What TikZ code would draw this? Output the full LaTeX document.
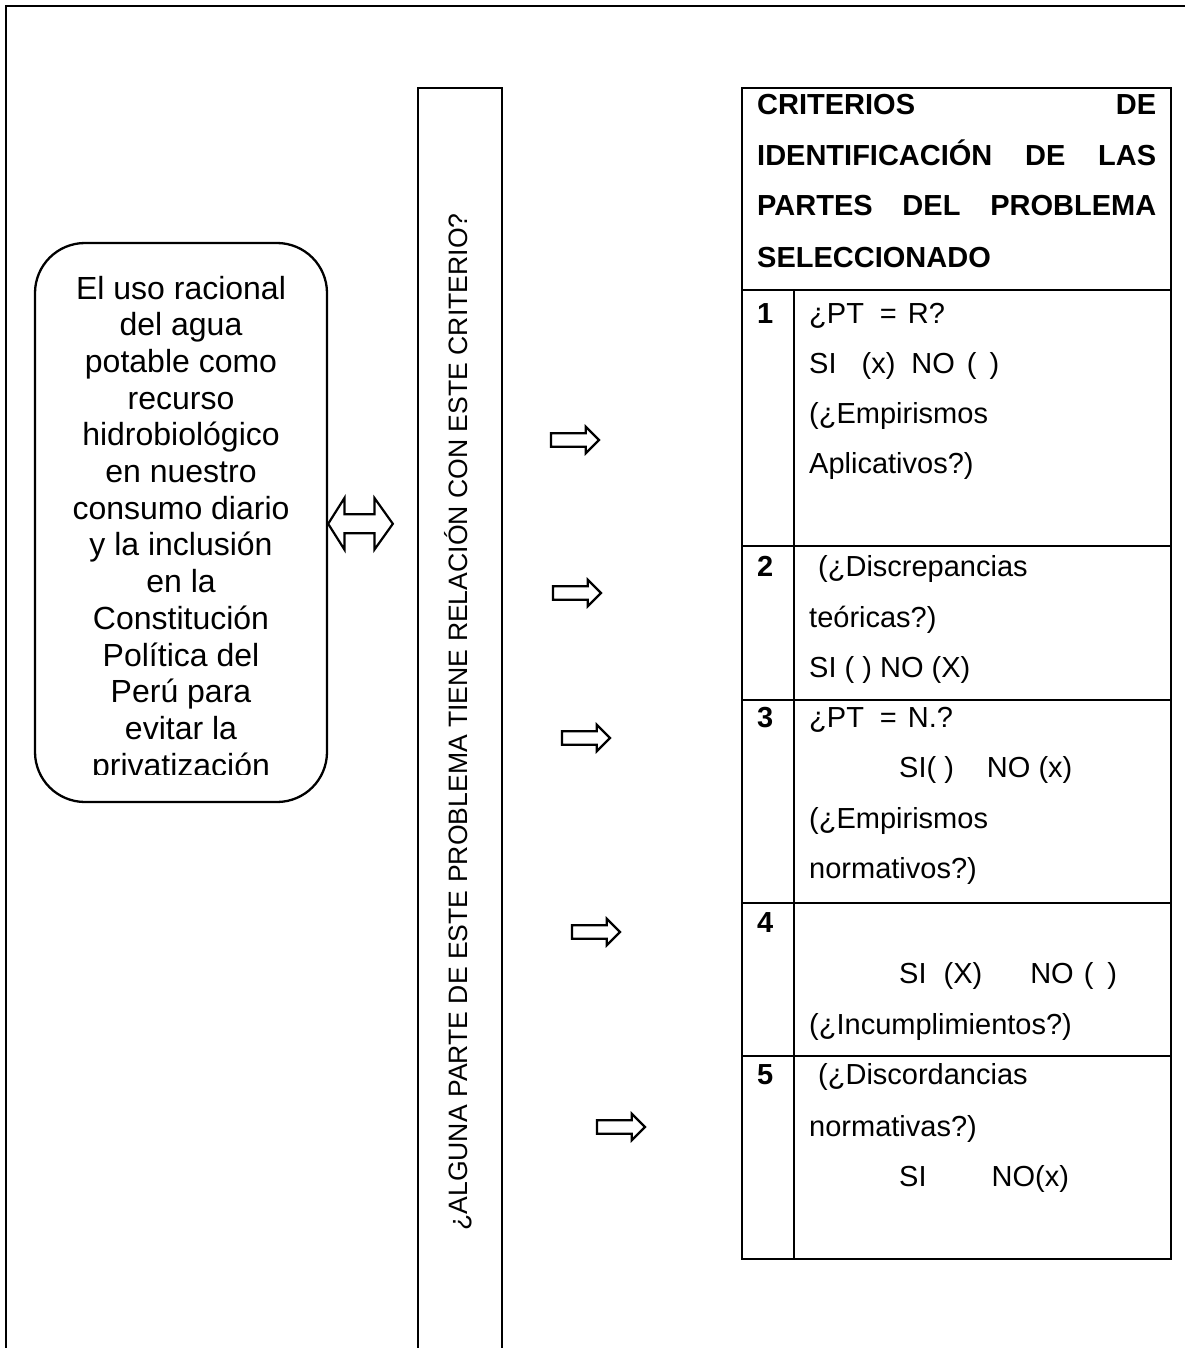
\documentclass[tikz,border=0pt]{standalone}
\usepackage{fontspec}
\setmainfont{Liberation Sans}
\usetikzlibrary{calc}
\begin{document}
\begin{tikzpicture}[x=1pt,y=-1pt,
  frameline/.style={line width=2.5pt},
  ln/.style={line width=2.3pt},
  boxtext/.style={anchor=base, inner sep=0pt, font=\fontsize{32}{37}\selectfont},
  tt/.style={anchor=base west, inner sep=0pt, font=\fontsize{29}{35}\selectfont},
  tb/.style={anchor=base west, inner sep=0pt, font=\fontsize{29}{35}\selectfont\bfseries},
  fatarrow/.pic={\draw[line width=2.2pt, line join=miter, fill=white] (0,-6.7) -- (34.7,-6.7) -- (34.7,-13.3) -- (48,0) -- (34.7,13.3) -- (34.7,6.7) -- (0,6.7) -- cycle;}
]
\useasboundingbox (0,0) rectangle (1184,1348);
% outer frame (open at right and bottom)
\draw[frameline] (6,1360) -- (6,6) -- (1200,6);

% problem box
\node[draw, ln, rounded corners=50pt, minimum width=292pt, minimum height=559pt, inner sep=0pt] (problem) at (181,522.5) {};
\begin{scope}
\clip (35,243) rectangle (327,774);
\foreach \t [count=\i from 0] in {El uso racional, del agua, potable como, recurso, hidrobiológico, en nuestro, consumo diario, y la inclusión, en la, Constitución, Política del, Perú para, evitar la, privatización}
  \node[boxtext] (line\i) at (181,299+36.7*\i) {\t};
\end{scope}

% double arrow
\draw[line width=2.2pt, line join=miter, fill=white] ($(problem.east)+(0,1.3)$) coordinate (dal)
  -- ++(16.3,-25.8) -- ++(0,16.3) -- ++(30,0) -- ++(0,-16.3) -- ++(18.4,25.8)
  -- ++(-18.4,25.8) -- ++(0,-16.3) -- ++(-30,0) -- ++(0,16.3) -- cycle;

% vertical question bar
\draw[ln] (418,1360) -- (418,88) -- (502,88) -- (502,1360);
\node[rotate=90, anchor=base, inner sep=0pt, font=\fontsize{26.6}{32}\selectfont] (question) at (467,722) {¿ALGUNA PARTE DE ESTE PROBLEMA TIENE RELACIÓN CON ESTE CRITERIO?};

% right arrows
\pic at (551,440) {fatarrow};
\pic at (553,593) {fatarrow};
\pic at (562,738) {fatarrow};
\pic at (572,932) {fatarrow};
\pic at (597,1127) {fatarrow};

% table
\draw[ln] (742,88) rectangle (1171,1259);
\foreach \y in {290,546,700,903,1056} \draw[ln] (742,\y) -- (1171,\y);
\draw[ln] (794,290) -- (794,1259);

% header
\node[tb] (h1) at (757,115) {\makebox[399pt][l]{CRITERIOS\hfill DE}};
\node[tb] (h2) at (757,166) {\makebox[399pt][l]{IDENTIFICACIÓN\hfill DE\hfill LAS}};
\node[tb] (h3) at (757,216) {\makebox[399pt][l]{PARTES\hfill DEL\hfill PROBLEMA}};
\node[tb] (h4) at (757,267) {SELECCIONADO};

% numbers
\node[tb] (n1) at (757,323) {1};
\node[tb] (n2) at (757,576) {2};
\node[tb] (n3) at (757,727) {3};
\node[tb] (n4) at (757,932) {4};
\node[tb] (n5) at (757,1084) {5};

% row 1
\node[tt] (r1a) at (809,323) {¿PT\hspace{16pt}=\hspace{11pt}R?};
\node[tt] (r1b) at (809,373) {SI\hspace{25pt}(x)\hspace{16pt}NO\hspace{12pt}(\hspace{13pt})};
\node[tt] (r1c) at (809,423) {(¿Empirismos};
\node[tt] (r1d) at (809,473) {Aplicativos?)};
% row 2
\node[tt] (r2a) at (818,576) {(¿Discrepancias};
\node[tt] (r2b) at (809,627) {teóricas?)};
\node[tt] (r2c) at (809,677) {SI ( ) NO (X)};
% row 3
\node[tt] (r3a) at (809,727) {¿PT\hspace{16pt}=\hspace{11pt}N.?};
\node[tt] (r3b) at (899,777) {SI( )\hspace{33pt}NO (x)};
\node[tt] (r3c) at (809,828) {(¿Empirismos};
\node[tt] (r3d) at (809,878) {normativos?)};
% row 4
\node[tt] (r4a) at (899,983) {SI\hspace{17pt}(X)\hspace{48pt}NO\hspace{10pt}(\hspace{14pt})};
\node[tt] (r4b) at (809,1034) {(¿Incumplimientos?)};
% row 5
\node[tt] (r5a) at (818,1084) {(¿Discordancias};
\node[tt] (r5b) at (809,1136) {normativas?)};
\node[tt] (r5c) at (899,1186) {SI\hspace{65pt}NO(x)};
\end{tikzpicture}
\end{document}
